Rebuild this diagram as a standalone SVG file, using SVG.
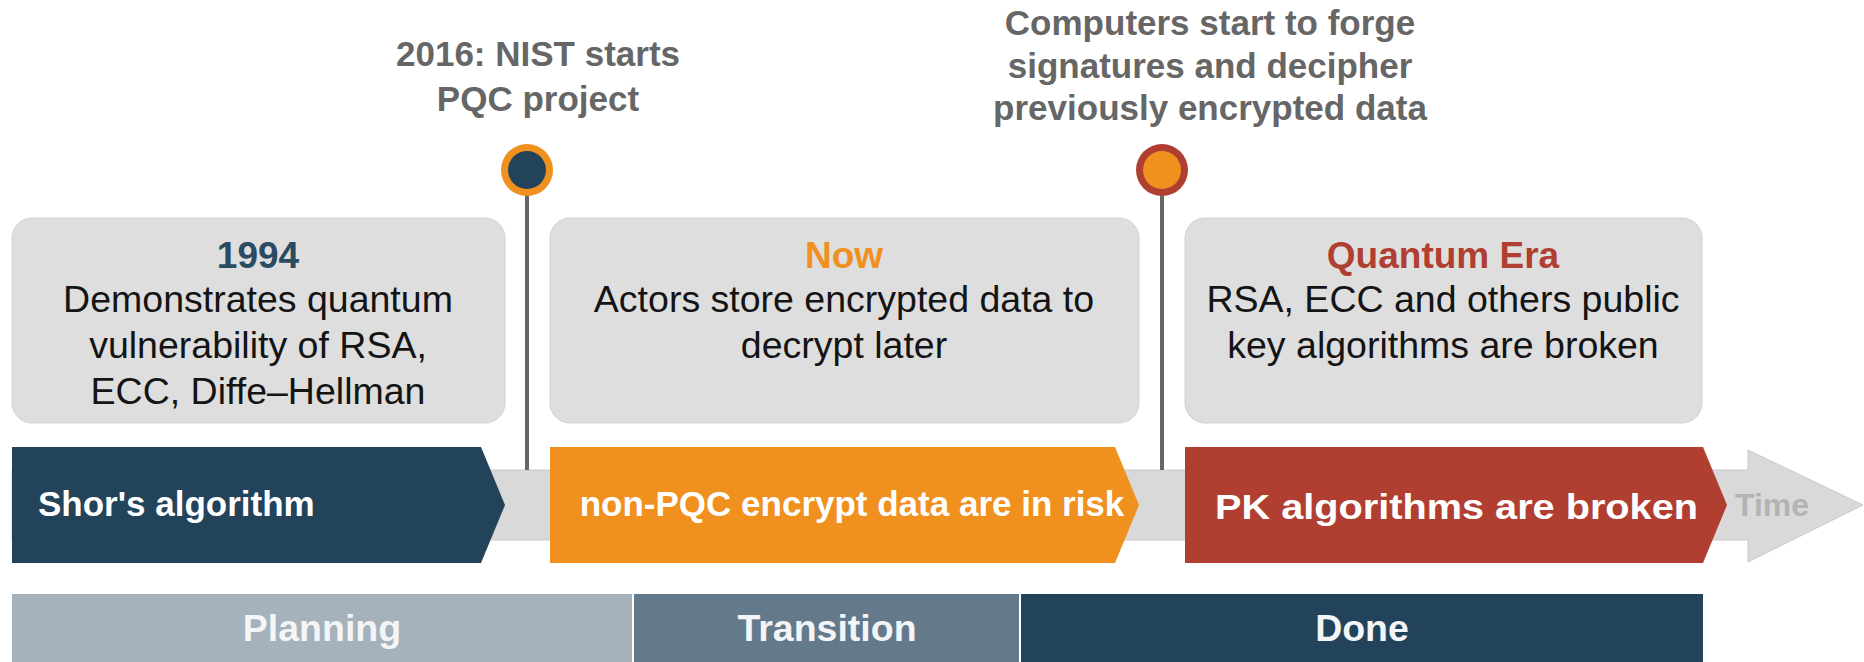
<svg xmlns="http://www.w3.org/2000/svg" width="1864" height="662" viewBox="0 0 1864 662">
  <style>
    text { font-family: "Liberation Sans", Arial, sans-serif; }
    .card { fill: #DEDEDE; stroke: #D2D2D2; stroke-width: 1; }
    .title { font-size: 37px; font-weight: bold; text-anchor: middle; }
    .body { font-size: 37.5px; fill: #141414; text-anchor: middle; }
    .milestone { font-size: 35px; font-weight: bold; fill: #666666; text-anchor: middle; }
    .stem { stroke: #666666; stroke-width: 4; }
    .band-label { font-size: 35px; font-weight: bold; fill: #FFFFFF; }
    .phase-label { font-size: 37.5px; font-weight: bold; fill: #F3F5F7; text-anchor: middle; }
  </style>

  <rect width="1864" height="662" fill="#FFFFFF"/>

  <!-- timeline axis arrow -->
  <g id="time-axis">
    <path d="M12,470 H1748 V450 L1863,505 L1748,562 V540 H12 Z" fill="#D9D9D9" stroke="#CACACA" stroke-width="1"/>
    <text x="1772" y="516" font-size="32" font-weight="bold" fill="#B3B3B3" text-anchor="middle">Time</text>
  </g>

  <!-- milestone pins -->
  <g id="connectors">
    <line class="stem" x1="527" y1="195" x2="527" y2="470"/>
    <line class="stem" x1="1162" y1="195" x2="1162" y2="470"/>
  </g>

  <g id="pin-nist">
    <circle cx="527" cy="170" r="26" fill="#F0901E"/>
    <circle cx="527" cy="170" r="19" fill="#22435A"/>
    <text class="milestone" x="538" y="66" font-size="37.5">2016: NIST starts</text>
    <text class="milestone" x="538" y="111" font-size="37.5">PQC project</text>
  </g>

  <g id="pin-quantum">
    <circle cx="1162" cy="170" r="26" fill="#B03F32"/>
    <circle cx="1162" cy="170" r="19" fill="#F0901E"/>
    <text class="milestone" x="1210" y="35">Computers start to forge</text>
    <text class="milestone" x="1210" y="78">signatures and decipher</text>
    <text class="milestone" x="1210" y="120">previously encrypted data</text>
  </g>

  <!-- description cards -->
  <g id="card-1994">
    <rect class="card" x="12" y="218" width="493" height="205" rx="20"/>
    <text class="title" x="258" y="268" fill="#2A4B62">1994</text>
    <text class="body" x="258" y="312">Demonstrates quantum</text>
    <text class="body" x="258" y="358">vulnerability of RSA,</text>
    <text class="body" x="258" y="404">ECC, Diffe–Hellman</text>
  </g>

  <g id="card-now">
    <rect class="card" x="550" y="218" width="589" height="205" rx="20"/>
    <text class="title" x="844" y="268" fill="#F0901E">Now</text>
    <text class="body" x="844" y="312">Actors store encrypted data to</text>
    <text class="body" x="844" y="358">decrypt later</text>
  </g>

  <g id="card-quantum">
    <rect class="card" x="1185" y="218" width="517" height="205" rx="20"/>
    <text class="title" x="1443" y="268" fill="#B03F32">Quantum Era</text>
    <text class="body" x="1443" y="312">RSA, ECC and others public</text>
    <text class="body" x="1443" y="358">key algorithms are broken</text>
  </g>

  <!-- era chevrons -->
  <g id="era-shor">
    <path d="M12,447 H481 L505,505 L481,563 H12 Z" fill="#22435A"/>
    <text class="band-label" x="38" y="516">Shor's algorithm</text>
  </g>

  <g id="era-risk">
    <path d="M550,447 H1115 L1139,505 L1115,563 H550 Z" fill="#F0901E"/>
    <text class="band-label" x="852" y="516" text-anchor="middle">non-PQC encrypt data are in risk</text>
  </g>

  <g id="era-broken">
    <path d="M1185,447 H1703 L1727,505 L1703,563 H1185 Z" fill="#B03F32"/>
    <text class="band-label" x="1215" y="519" font-size="44" textLength="483" lengthAdjust="spacingAndGlyphs">PK algorithms are broken</text>
  </g>

  <!-- migration phases -->
  <g id="phase-planning">
    <rect x="12" y="594" width="620" height="68" fill="#A5B2BC"/>
    <text class="phase-label" x="322" y="641">Planning</text>
  </g>

  <g id="phase-transition">
    <rect x="634" y="594" width="385" height="68" fill="#647A8B"/>
    <text class="phase-label" x="827" y="641">Transition</text>
  </g>

  <g id="phase-done">
    <rect x="1021" y="594" width="682" height="68" fill="#22435A"/>
    <text class="phase-label" x="1362" y="641">Done</text>
  </g>
</svg>
